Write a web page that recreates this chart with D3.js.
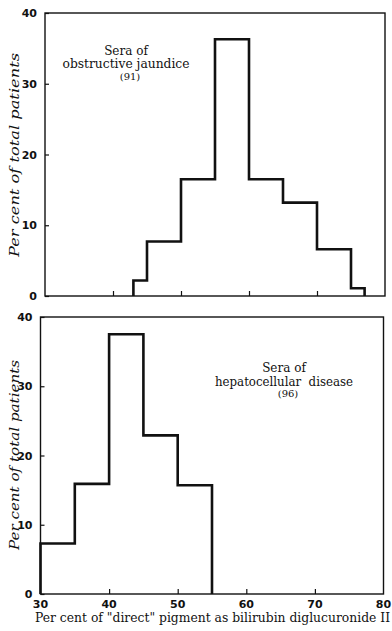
<!DOCTYPE html>
<html>
<head>
<meta charset="utf-8">
<script src="https://cdn.jsdelivr.net/npm/d3@7"></script>
<style>
body { margin: 0; background: #fff; }
text { fill: #111; }
</style>
</head>
<body>
<div id="plot"></div>
<script>
// bin edges (% direct pigment) and per cent of patients in each bin
var obstructEdges = [43, 45, 50, 55, 60, 65, 70, 75, 77];
var obstructValues = [2.2, 7.7, 16.5, 36.3, 16.5, 13.2, 6.6, 1.1];
var hepatoEdges = [30, 35, 40, 45, 50, 55];
var hepatoValues = [7.3, 15.9, 37.5, 22.9, 15.7];
var xTicks = [30, 40, 50, 60, 70, 80];
var yTicks = [0, 10, 20, 30, 40];
var obstructLabel = ["Sera of", "obstructive jaundice", "(91)"];
var hepatoLabel = ["Sera of", "hepatocellular  disease", "(96)"];
var xTitle = "Per cent of \"direct\" pigment as bilirubin diglucuronide II";
var yTitle = "Per cent of total patients";

var W = 392, H = 631;
var svg = d3.select("#plot").append("svg")
	.attr("width", W)
	.attr("height", H);

function panel(opts){
	var x = d3.scaleLinear().domain([30, 80]).range(opts.xr);
	var y = d3.scaleLinear().domain([0, 40]).range(opts.yr);
	var g = svg.append("g");

	// frame
	g.append("rect")
		.attr("x", x(30)).attr("y", y(40))
		.attr("width", x(80) - x(30)).attr("height", y(0) - y(40))
		.attr("fill", "none").attr("stroke", "#111").attr("stroke-width", 1.4);

	// y ticks pointing inward
	var ya = d3.axisLeft(y).tickValues(yTicks).tickSize(-4).tickPadding(8);
	var yg = g.append("g").attr("transform", "translate(" + x(30) + ",0)").call(ya);
	yg.select(".domain").remove();
	yg.selectAll("line").attr("stroke", "#111").attr("stroke-width", 1.2);
	yg.selectAll("text").style("font-family", "DejaVu Sans").style("font-size", "11px")
		.style("font-weight", "bold").attr("fill", "#111");

	// x ticks pointing up
	var xa = d3.axisBottom(x).tickValues(xTicks.slice(1, -1)).tickSize(-5);
	var xg = g.append("g").attr("transform", "translate(0," + y(0) + ")").call(xa);
	xg.select(".domain").remove();
	xg.selectAll("line").attr("stroke", "#111").attr("stroke-width", 1.2);
	xg.selectAll("text").remove();

	if(opts.labels){
		g.append("g").selectAll("text")
			.data(xTicks)
			.enter().append("text")
			.attr("x", function(d){ return x(d); })
			.attr("y", y(0) + 14)
			.attr("text-anchor", "middle")
			.style("font-family", "DejaVu Sans").style("font-size", "11px").style("font-weight", "bold")
			.text(function(d){ return d; });
	}

	// step histogram
	var pts = [[opts.edges[0], 0]];
	opts.values.forEach(function(v, i){
		pts.push([opts.edges[i], v]);
		pts.push([opts.edges[i + 1], v]);
	});
	pts.push([opts.edges[opts.edges.length - 1], 0]);
	var line = d3.line()
		.x(function(d){ return x(d[0]); })
		.y(function(d){ return y(d[1]); });
	g.append("path")
		.attr("d", line(pts))
		.attr("fill", "none").attr("stroke", "#111").attr("stroke-width", 2.6)
		.attr("stroke-linejoin", "miter");

	// annotation
	g.append("g").selectAll("text")
		.data(opts.note)
		.enter().append("text")
		.attr("x", function(d, i){ return opts.noteX + (i == 2 ? 4 : 0); })
		.attr("y", function(d, i){ return opts.noteY[i]; })
		.attr("text-anchor", "middle")
		.attr("textLength", function(d, i){ return i == 1 ? opts.noteW : null; })
		.attr("lengthAdjust", "spacingAndGlyphs")
		.style("font-family", "DejaVu Serif")
		.style("font-size", function(d, i){ return i == 2 ? "10px" : "12px"; })
		.style("white-space", "pre")
		.text(function(d){ return d; });

	// y title
	g.append("text")
		.attr("transform", "translate(19," + opts.yTitleY + ") rotate(-90)")
		.attr("text-anchor", "middle")
		.attr("textLength", opts.yTitleW).attr("lengthAdjust", "spacingAndGlyphs")
		.style("font-family", "DejaVu Serif").style("font-style", "italic").style("font-size", "13px")
		.text(yTitle);
}

panel({xr: [45, 385], yr: [296, 13], edges: obstructEdges, values: obstructValues,
	labels: false, note: obstructLabel, noteX: 126, noteW: 127, noteY: [55, 68, 80],
	yTitleY: 155, yTitleW: 204});
panel({xr: [40.5, 383.5], yr: [594, 317], edges: hepatoEdges, values: hepatoValues,
	labels: true, note: hepatoLabel, noteX: 284, noteW: 138, noteY: [372, 386, 397],
	yTitleY: 455, yTitleW: 190});

svg.append("text")
	.attr("x", 35).attr("y", 622)
	.attr("textLength", 355).attr("lengthAdjust", "spacingAndGlyphs")
	.style("font-family", "DejaVu Serif").style("font-size", "12px")
	.text(xTitle);
</script>
</body>
</html>
